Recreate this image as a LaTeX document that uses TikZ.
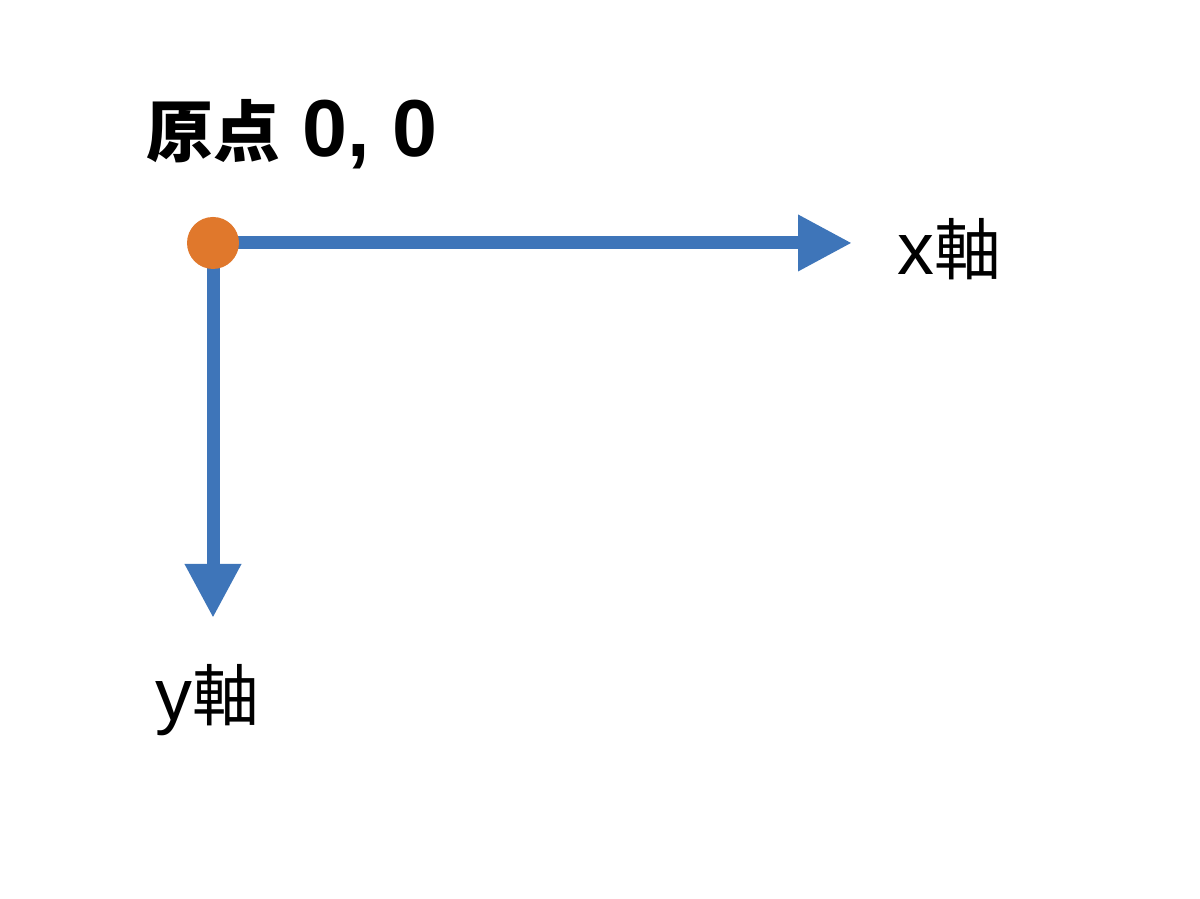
\documentclass[tikz,border=0pt]{standalone}
\usepackage{fontspec}
\setmainfont{Noto Sans CJK JP}
\newfontfamily\latinfont{Liberation Sans}
\usetikzlibrary{arrows.meta}
\definecolor{axisblue}{RGB}{62,117,185}
\definecolor{dotorange}{RGB}{224,120,44}
\begin{document}
\begin{tikzpicture}
	\tikzstyle{axis}=[draw=axisblue, line width=0.13cm, -{Triangle[length=0.54cm, width=0.53cm]}]
	\tikzstyle{label}=[inner sep=0pt, anchor=west, font=\fontsize{19pt}{22pt}\selectfont]
	\useasboundingbox (0,0) rectangle (12,8.99);
	\coordinate (origin) at (2.13,6.56);
	\coordinate (xend) at (8.52,6.56);
	\coordinate (yend) at (2.13,2.81);
	\draw[axis] (origin) -- (xend);
	\draw[axis] (origin) -- (yend);
	\node[circle, fill=dotorange, minimum size=0.52cm, inner sep=0pt] (dot) at (origin) {};
	\node[label, font=\fontsize{19pt}{22pt}\selectfont\bfseries] (title) at (1.46,7.65)
		{原点{\latinfont\fontsize{23pt}{26pt}\selectfont\ 0, 0}};
	\node[label] (xlabel) at (8.97,6.5) {{\latinfont\fontsize{21pt}{24pt}\selectfont x}軸};
	\node[label] (ylabel) at (1.55,1.99) {{\latinfont\fontsize{21pt}{24pt}\selectfont y}軸};
\end{tikzpicture}
\end{document}
